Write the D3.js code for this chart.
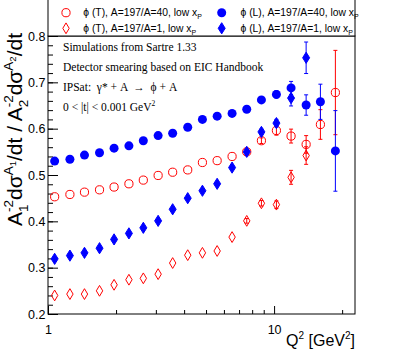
<!DOCTYPE html>
<html>
<head>
<meta charset="utf-8">
<script src="https://cdn.jsdelivr.net/npm/d3@7"></script>
<style>
  body { margin: 0; background: #fff; }
  svg { display: block; }
</style>
</head>
<body>
<svg id="chart" width="395" height="357"></svg>
<script>
// Q^2 bin centres
var q2 = [1.07, 1.25, 1.45, 1.69, 1.96, 2.28, 2.64, 3.07, 3.56, 4.15, 4.82, 5.6, 6.52, 7.57, 8.79, 10.24, 11.89, 13.86, 16.03, 18.67];

// phi (T), A=197/A=40
var tA40 = [0.453, 0.458, 0.463, 0.468, 0.474, 0.481, 0.489, 0.499, 0.506, 0.511, 0.527, 0.531, 0.540, 0.550, 0.574, 0.596, 0.584, 0.566, 0.609, 0.678];
var tA40Err = [0, 0, 0, 0, 0, 0, 0, 0, 0, 0, 0, 0, 0, 0.005, 0.006, 0.010, 0.015, 0.019, 0.032, 0.091];
// phi (T), A=197/A=1
var tA1 = [0.240, 0.243, 0.243, 0.250, 0.263, 0.274, 0.277, 0.286, 0.310, 0.327, 0.332, 0.336, 0.366, 0.401, 0.439, 0.436, 0.495, 0.542];
var tA1Err = [0, 0, 0, 0, 0, 0, 0, 0, 0, 0, 0, 0, 0, 0.005, 0.006, 0.008, 0.015, 0.019];
// phi (L), A=197/A=40
var lA40 = [0.530, 0.534, 0.543, 0.548, 0.558, 0.563, 0.574, 0.585, 0.590, 0.603, 0.620, 0.627, 0.633, 0.642, 0.662, 0.674, 0.688, 0.651, 0.658, 0.552];
var lA40Err = [0, 0, 0, 0, 0, 0, 0, 0, 0, 0, 0, 0, 0, 0.004, 0.005, 0.008, 0.014, 0.022, 0.038, 0.087];
// phi (L), A=197/A=1
var lA1 = [0.319, 0.326, 0.332, 0.342, 0.361, 0.374, 0.386, 0.401, 0.426, 0.450, 0.466, 0.481, 0.516, 0.550, 0.593, 0.612, 0.666, 0.753];
var lA1Err = [0, 0, 0, 0, 0, 0, 0, 0, 0, 0, 0, 0, 0, 0.005, 0.006, 0.008, 0.017, 0.034];

var legendLabels = ["ϕ (T), A=197/A=40, low x", "ϕ (L), A=197/A=40, low x", "ϕ (T), A=197/A=1, low x", "ϕ (L), A=197/A=1, low x"];
var notes = ["Simulations from Sartre 1.33", "Detector smearing based on EIC Handbook", "IPSat:  γ* + A  →  ϕ + A", "0 < |t| < 0.001 GeV"];

var yMajor = [0.2, 0.3, 0.4, 0.5, 0.6, 0.7, 0.8];
var yMinor = d3.range(0.2, 0.8001, 0.02);
var xMajor = [1, 10];
var xMinor = [2, 3, 4, 5, 6, 7, 8, 9, 20];

var red = "#ff0000", blue = "#0000ff";
var sans = "'Liberation Sans', Arial, sans-serif";
var serif = "'Liberation Serif', 'Times New Roman', serif";

var svg = d3.select("#chart");
var padL = 48, padR = 355, padT = 36, padB = 314;

var x = d3.scaleLog().domain([1, 22.8]).range([padL, padR]);
var y = d3.scaleLinear().domain([0.2, 0.8]).range([padB, padT]);

// text made of pieces (sub/superscripts), returns the width
function rich(sel, parts, font) {
    var g = sel.append("g");
    var cx = 0, held = 0;
    parts.forEach(function(p) {
        var t = g.append("text")
            .attr("x", cx)
            .attr("y", p.dy || 0)
            .style("font-family", font)
            .style("font-size", p.s + "px")
            .style("white-space", "pre")
            .attr("fill", "#000")
            .text(p.t);
        var w = t.node().getComputedTextLength();
        if (p.hold) {
            held = Math.max(held, w);
        } else {
            cx += Math.max(w, held);
            held = 0;
        }
    });
    return {g: g, width: cx};
}

// axes
var yAxisMinor = d3.axisLeft(y).tickValues(yMinor).tickSizeInner(-5).tickSizeOuter(0).tickFormat("");
var yAxisMajor = d3.axisLeft(y).tickValues(yMajor).tickSizeInner(-10).tickSizeOuter(0).tickPadding(2.5).tickFormat(d3.format(".1f"));
var xAxisMinor = d3.axisBottom(x).tickValues(xMinor).tickSizeInner(-4).tickSizeOuter(0).tickFormat("");
var xAxisMajor = d3.axisBottom(x).tickValues(xMajor).tickSizeInner(-8).tickSizeOuter(0).tickPadding(11).tickFormat(d3.format("d"));

svg.append("g").attr("transform", "translate(" + padL + ",0)").call(yAxisMinor);
svg.append("g").attr("transform", "translate(" + padL + ",0)").call(yAxisMajor);
svg.append("g").attr("transform", "translate(0," + padB + ")").call(xAxisMinor);
svg.append("g").attr("transform", "translate(0," + padB + ")").call(xAxisMajor);
svg.selectAll(".domain").remove();
svg.selectAll(".tick line").attr("stroke", "#000").attr("stroke-width", 1);
svg.selectAll(".tick text").style("font-family", sans).style("font-size", "12.5px").attr("fill", "#000");

// frame
svg.append("rect")
    .attr("x", padL).attr("y", padT)
    .attr("width", padR - padL).attr("height", padB - padT)
    .attr("fill", "none").attr("stroke", "#000").attr("stroke-width", 1);

// notes
var noteY = [50.5, 71, 91, 111];
notes.forEach(function(n, i) {
    var parts = [{t: n, s: 11.5}];
    if (i == 3) parts.push({t: "2", s: 7.5, dy: -5});
    var r = rich(svg, parts, serif);
    r.g.attr("transform", "translate(63," + noteY[i] + ")");
});

// markers
function marker(sel, shape, filled, color, cx, cy) {
    if (shape == "circle") {
        sel.append("circle")
            .attr("cx", cx).attr("cy", cy)
            .attr("r", filled ? 4.5 : 4.1)
            .attr("fill", filled ? color : "none")
            .attr("stroke", color).attr("stroke-width", filled ? 0 : 1);
    } else {
        var hw = filled ? 3.5 : 3.2, hh = filled ? 5.6 : 5.4;
        sel.append("path")
            .attr("d", "M" + cx + "," + (cy - hh) + "L" + (cx + hw) + "," + cy + "L" + cx + "," + (cy + hh) + "L" + (cx - hw) + "," + cy + "Z")
            .attr("fill", filled ? color : "none")
            .attr("stroke", color).attr("stroke-width", 1);
    }
}

var series = [
    {vals: tA40, errs: tA40Err, shape: "circle", filled: false, color: red},
    {vals: tA1, errs: tA1Err, shape: "diamond", filled: false, color: red},
    {vals: lA40, errs: lA40Err, shape: "circle", filled: true, color: blue},
    {vals: lA1, errs: lA1Err, shape: "diamond", filled: true, color: blue}
];

var plot = svg.append("g");
series.forEach(function(s) {
    var g = plot.append("g");
    s.vals.forEach(function(v, i) {
        var px = x(q2[i]), py = y(v), e = s.errs[i];
        if (e > 0) {
            var y0 = y(v - e), y1 = y(v + e);
            g.append("line").attr("x1", px).attr("x2", px).attr("y1", y0).attr("y2", y1)
                .attr("stroke", s.color).attr("stroke-width", 1);
            [y0, y1].forEach(function(yy) {
                g.append("line").attr("x1", px - 2).attr("x2", px + 2).attr("y1", yy).attr("y2", yy)
                    .attr("stroke", s.color).attr("stroke-width", 1);
            });
        }
        marker(g, s.shape, s.filled, s.color, px, py);
    });
});

// legend
svg.append("rect")
    .attr("x", padL).attr("y", -1)
    .attr("width", padR - padL).attr("height", padT + 1)
    .attr("fill", "#fff").attr("stroke", "#000").attr("stroke-width", 1);

var legMarkX = [66, 221.7], legTextX = [83.3, 240.5], legY = [12.7, 28.3];
var legSeries = [series[0], series[2], series[1], series[3]];
legendLabels.forEach(function(lab, i) {
    var col = i % 2, row = Math.floor(i / 2);
    var s = legSeries[i];
    marker(svg, s.shape, s.filled, s.color, legMarkX[col], legY[row]);
    var r = rich(svg, [{t: lab, s: 10.3}, {t: "P", s: 7, dy: 2.5}], sans);
    r.g.attr("transform", "translate(" + legTextX[col] + "," + (legY[row] + 3.7) + ")");
});

// x title
var xt = rich(svg, [{t: "Q", s: 16}, {t: "2", s: 10, dy: -7}, {t: " [GeV", s: 16}, {t: "2", s: 10, dy: -7}, {t: "]", s: 16}], sans);
xt.g.attr("transform", "translate(" + (padR - xt.width) + ",346)");

// y title
var F = 21, S = 13.5, SS = 9.5;
var yt = rich(svg, [
    {t: "A", s: F},
    {t: "1", s: S, dy: 6, hold: true}, {t: "-2", s: S, dy: -9},
    {t: "dσ", s: F},
    {t: "A", s: S, dy: -9}, {t: "1", s: SS, dy: -6},
    {t: "/dt / A", s: F},
    {t: "2", s: S, dy: 6, hold: true}, {t: "-2", s: S, dy: -9},
    {t: "dσ", s: F},
    {t: "A", s: S, dy: -9}, {t: "2", s: SS, dy: -6},
    {t: "/dt", s: F}
], sans);
yt.g.attr("transform", "translate(22," + (33 + yt.width) + ") rotate(-90)");
</script>
</body>
</html>
